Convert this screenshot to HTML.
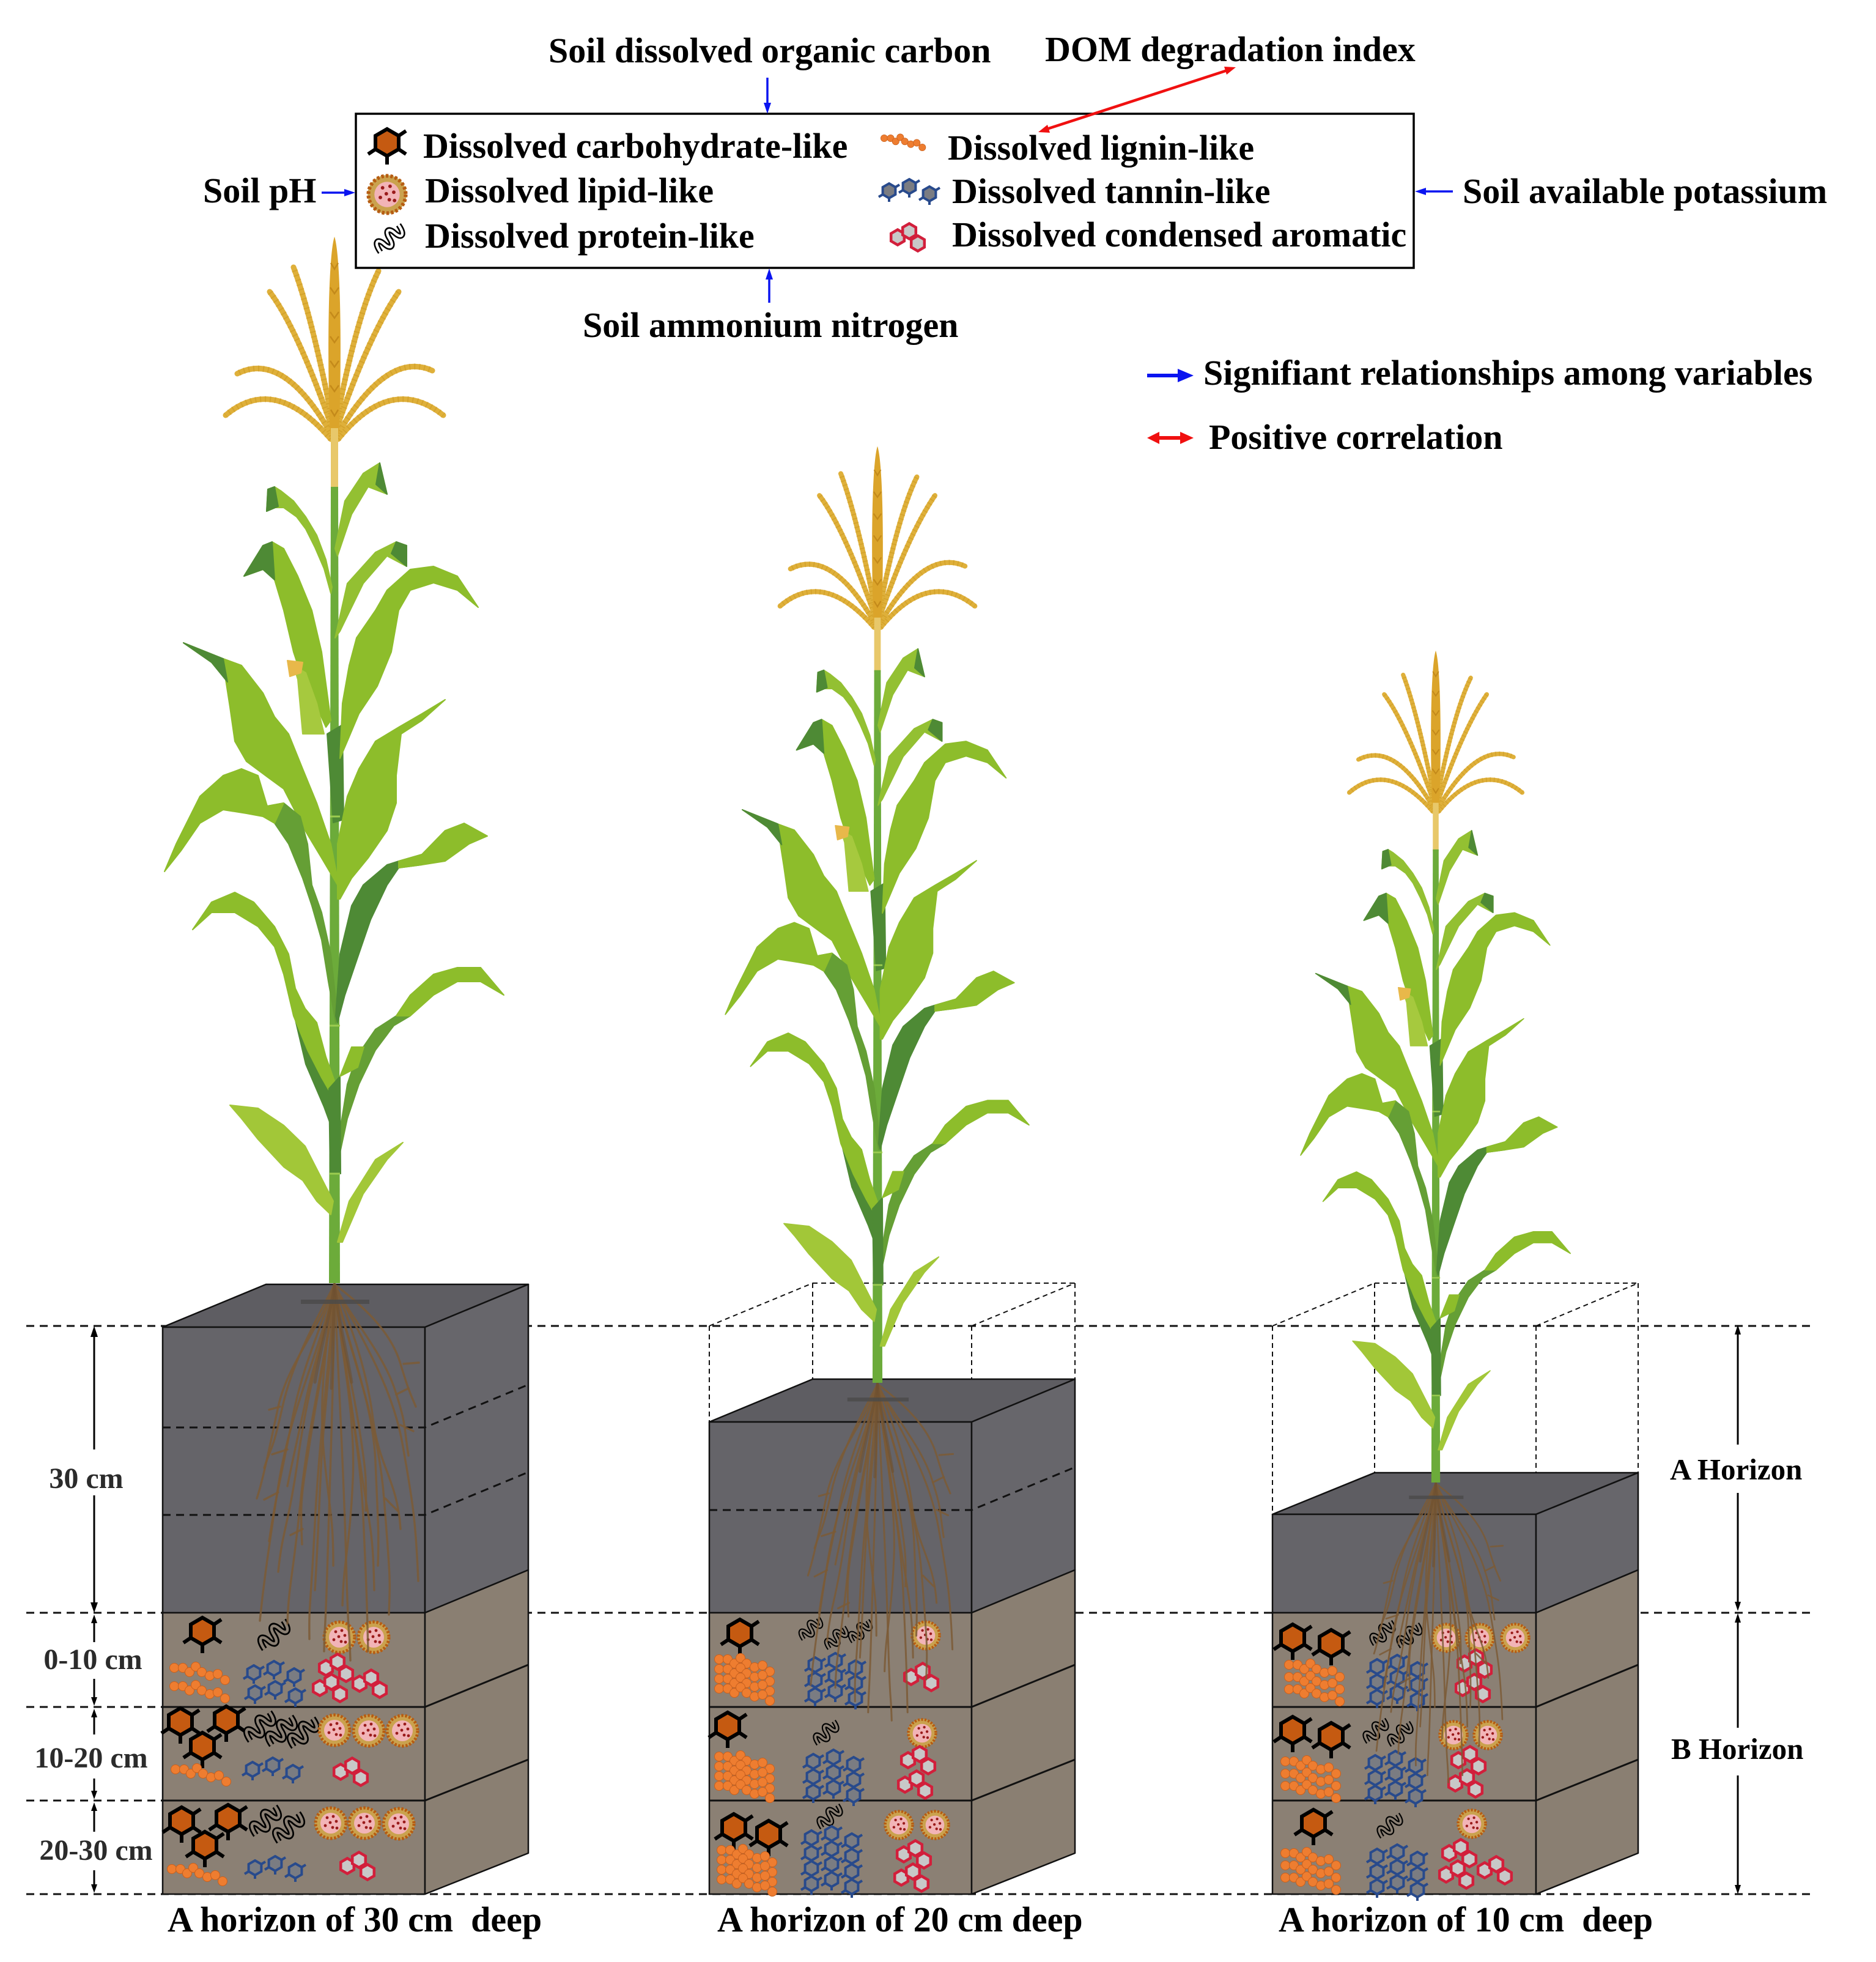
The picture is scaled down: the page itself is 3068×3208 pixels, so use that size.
<!DOCTYPE html>
<html><head><meta charset="utf-8"><style>
html,body{margin:0;padding:0;background:#fff;}
svg{display:block;}
text{font-family:"Liberation Serif","Times New Roman",serif;font-weight:bold;fill:#000;}
</style></head><body>
<svg width="3068" height="3208" viewBox="0 0 3068 3208" xmlns="http://www.w3.org/2000/svg">
<defs>
 <g id="carb">
  <path d="M19,-11 L31,-19 M19,11 L31,19 M0,22 L0,36 M-19,11 L-31,19" stroke="#000" stroke-width="6"/>
  <polygon points="0,-22 19,-11 19,11 0,22 -19,11 -19,-11" fill="#c55a11" stroke="#000" stroke-width="6"/>
 </g>
 <g id="lip">
  <circle r="26" fill="#caa24e"/>
  <circle r="25" fill="none" stroke="#b65c12" stroke-width="5" stroke-dasharray="3.5 2.6"/>
  <circle r="17" fill="#f2b4b7"/>
  <g fill="#9a1b1b"><circle cx="-6" cy="-9" r="2.4"/><circle cx="4" cy="-11" r="2.4"/><circle cx="9" cy="-3" r="2.4"/><circle cx="-1" cy="-1" r="2.4"/><circle cx="-9" cy="4" r="2.4"/><circle cx="3" cy="7" r="2.4"/><circle cx="10" cy="8" r="2.4"/></g>
 </g>
 <g id="pro">
  <g transform="rotate(-40)">
   <path d="M-27,8 C-25,-14 -15,-14 -13,2 C-11,16 -2,16 0,0 C2,-16 11,-16 13,-2 C15,14 25,14 27,-8" fill="none" stroke="#000" stroke-width="10"/>
   <path d="M-27,8 C-25,-14 -15,-14 -13,2 C-11,16 -2,16 0,0 C2,-16 11,-16 13,-2 C15,14 25,14 27,-8" fill="none" stroke="currentColor" stroke-width="4.5"/>
  </g>
 </g>
 <g id="lig" fill="#ee7d30" stroke="#c8601e" stroke-width="1">
  <circle cx="0" cy="0" r="7.5"/><circle cx="14" cy="0" r="7.5"/><circle cx="25" cy="7" r="7.5"/><circle cx="35" cy="-2" r="7.5"/><circle cx="45" cy="7" r="7.5"/><circle cx="58" cy="13" r="7.5"/><circle cx="71" cy="10" r="7.5"/><circle cx="83" cy="20" r="7.5"/>
 </g>
 <g id="th">
  <path d="M10.4,-6 L17,-10 M-10.4,6 L-17,10 M0,12 L0,18" stroke="#284a8c" stroke-width="4"/>
  <polygon points="0,-12 10.4,-6 10.4,6 0,12 -10.4,6 -10.4,-6" fill="#7a7c82" stroke="#284a8c" stroke-width="4"/>
 </g>
 <g id="tan"><use href="#th" x="-33" y="0"/><use href="#th" x="0" y="-7"/><use href="#th" x="33" y="5"/></g>
 <g id="ch"><polygon points="0,-12.5 10.8,-6.25 10.8,6.25 0,12.5 -10.8,6.25 -10.8,-6.25" fill="#c8c8c8" stroke="#d21f3b" stroke-width="4.5"/></g>
 <g id="cond"><use href="#ch"/><use href="#ch" x="19" y="-10"/><use href="#ch" x="33" y="10"/></g>
 <g id="ligc4"><use href="#lig"/><use href="#lig" y="16"/><use href="#lig" y="32"/><use href="#lig" y="48"/></g>
 <g id="ligc3"><use href="#lig"/><use href="#lig" y="20"/><use href="#lig" y="40"/></g>
 <g id="tanc"><use href="#tan"/><use href="#tan" y="25"/><use href="#tan" y="50"/></g>
 <g id="tanc4"><use href="#tan"/><use href="#tan" y="25"/><use href="#tan" y="50"/><use href="#tan" y="75"/></g>

 <g id="plant">
  <!-- roots -->
  <g fill="none" stroke="#7b5a36" stroke-width="3.4" stroke-opacity="0.85" stroke-linecap="round">
   <path d="M547,2100 C525,2170 470,2230 455,2300 S430,2420 420,2450"/>
   <path d="M547,2100 C528,2200 475,2300 455,2430 S430,2600 425,2650"/>
   <path d="M547,2100 C536,2210 505,2320 492,2450 S472,2590 470,2655"/>
   <path d="M547,2100 C540,2220 522,2350 515,2490 S505,2620 506,2680"/>
   <path d="M547,2100 C546,2250 540,2400 536,2540 S531,2650 530,2700"/>
   <path d="M547,2100 C553,2250 562,2400 566,2550 S571,2650 573,2715"/>
   <path d="M547,2100 C560,2230 588,2350 594,2480 S600,2620 602,2700"/>
   <path d="M547,2100 C570,2210 617,2310 628,2450 S638,2580 636,2640"/>
   <path d="M547,2100 C585,2180 640,2260 658,2360 S680,2490 684,2585"/>
   <path d="M547,2100 C600,2140 640,2180 655,2230 S672,2280 680,2300"/>
   <path d="M547,2100 C522,2150 480,2220 462,2300 S445,2360 432,2400"/>
   <path d="M547,2100 C532,2180 505,2260 488,2380 S462,2500 455,2570"/>
   <path d="M547,2100 C556,2200 582,2310 577,2420 S562,2550 560,2625"/>
   <path d="M547,2100 C566,2190 610,2290 614,2390 S620,2500 618,2560"/>
   <path d="M547,2100 C540,2180 522,2260 508,2350 S490,2450 494,2525"/>
   <path d="M547,2100 C570,2150 625,2210 645,2270 S660,2330 668,2380"/>
   <path d="M547,2100 C545,2200 530,2300 525,2400 S520,2520 515,2600"/>
   <path d="M547,2100 C560,2200 575,2300 590,2400 S610,2500 612,2600"/>
   <path d="M547,2100 C538,2160 515,2220 500,2290 S480,2380 470,2430"/>
   <path d="M547,2100 C552,2170 572,2240 585,2320 S600,2420 598,2470"/>
   <path d="M547,2100 C535,2190 520,2280 530,2380 S545,2480 545,2560"/>
   <path d="M547,2100 C575,2170 600,2240 610,2320 S650,2420 655,2500"/>
   <path d="M547,2100 C530,2160 495,2230 478,2320 S450,2450 440,2520"/>
   <path d="M455,2440 L432,2452 M470,2370 L445,2378 M458,2300 L440,2305 M648,2280 L668,2270 M655,2330 L676,2340 M630,2450 L650,2470 M495,2500 L475,2510 M660,2230 L685,2228"/>
  </g>
  <g fill="none" stroke="#6e5030" stroke-width="5" stroke-opacity="0.6" stroke-linecap="round">
   <path d="M547,2100 C540,2150 525,2200 515,2260"/>
   <path d="M547,2100 C552,2150 565,2200 575,2260"/>
   <path d="M547,2100 C546,2160 544,2210 542,2270"/>
  </g>
  <rect x="492" y="2125" width="112" height="7" fill="#4a4a4a" opacity="0.8"/>
  <!-- tassel -->
  <g fill="none" stroke="#dfb03a" stroke-width="9" stroke-linecap="round">
   <path d="M541,718 Q449,611 369,679"/>
   <path d="M543,712 Q464,572 388,611"/>
   <path d="M545,705 Q487,538 441,477"/>
   <path d="M546,700 Q510,516 480,437"/>
   <path d="M548,700 Q583,516 619,443"/>
   <path d="M549,705 Q602,550 652,477"/>
   <path d="M551,712 Q633,572 707,606"/>
   <path d="M553,718 Q640,611 725,679"/>
  </g>
  <g fill="none" stroke="#c8941c" stroke-width="10" stroke-dasharray="2 6" opacity="0.45">
   <path d="M541,718 Q449,611 369,679"/>
   <path d="M543,712 Q464,572 388,611"/>
   <path d="M545,705 Q487,538 441,477"/>
   <path d="M546,700 Q510,516 480,437"/>
   <path d="M548,700 Q583,516 619,443"/>
   <path d="M549,705 Q602,550 652,477"/>
   <path d="M551,712 Q633,572 707,606"/>
   <path d="M553,718 Q640,611 725,679"/>
  </g>
  <path d="M547,387 C558,420 559,600 554,710 L540,710 C535,600 536,420 547,387 Z" fill="#dba42a"/>
  <path d="M541,430 L547,440 L553,430 M540,470 L547,480 L554,470 M540,510 L547,520 L554,510 M540,550 L547,560 L554,550 M540,590 L547,600 L554,590 M540,630 L547,640 L554,630 M541,670 L547,680 L553,670" fill="none" stroke="#c48a1a" stroke-width="2.5"/>
  <rect x="541" y="700" width="12" height="100" fill="#e8c86a"/>
  <!-- stem -->
  <polygon points="538,2098 556,2098 553,796 541,796" fill="#6cab3a"/>
  <!-- leaves -->
  <g stroke-linejoin="round" stroke-width="2">
  <path d="M300,1051 L365,1077 L395,1088 L430,1133 L449,1172 L472,1200 L495,1257 L518,1313 L541,1380 L552,1436 L552,1447 L526,1403 L499,1358 L464,1290 L434,1268 L403,1245 L384,1212 L376,1156 L369,1111 L346,1083 Z" fill="#8dbd2b" stroke="#8dbd2b"/>
  <path d="M300,1051 L365,1077 L372,1115 L346,1083 Z" fill="#4e8a35" stroke="#4e8a35"/>
  <path d="M437,1318 L464,1313 L491,1335 L503,1380 L510,1447 L526,1492 L541,1560 L552,1661 L549,1672 L537,1605 L526,1537 L510,1481 L495,1436 L472,1380 L449,1346 Z" fill="#659f35" stroke="#659f35"/>
  <path d="M269,1425 L288,1380 L327,1302 L365,1268 L395,1257 L422,1268 L437,1318 L464,1313 L449,1346 L430,1335 L403,1330 L365,1324 L327,1346 L296,1391 Z" fill="#8dbd2b" stroke="#8dbd2b"/>
  <path d="M399,942 L430,892 L445,886 L464,897 L487,942 L510,998 L526,1066 L535,1133 L541,1178 L533,1189 L518,1156 L495,1111 L480,1066 L464,998 L449,948 L430,931 Z" fill="#8dbd2b" stroke="#8dbd2b"/>
  <path d="M399,942 L430,892 L445,886 L449,948 L430,931 Z" fill="#4e8a35" stroke="#4e8a35"/>
  <path d="M543,960 L533,915 L518,875 L500,845 L480,819 L460,803 L449,796 L438,800 L436,836 L450,830 L464,830 L485,845 L500,865 L515,895 L530,930 L541,970 Z" fill="#93c032" stroke="#93c032"/>
  <path d="M449,796 L438,800 L436,836 L455,828 Z" fill="#4e8a35" stroke="#4e8a35"/>
  <path d="M535,1200 L560,1185 L562,1340 L545,1345 Z" fill="#4e8a35" stroke="#4e8a35"/>
  <path d="M556,1240 L560,1150 L571,1088 L583,1043 L614,998 L633,965 L671,931 L709,926 L748,942 L782,993 L748,965 L709,953 L671,965 L652,998 L640,1066 L617,1122 L587,1167 L568,1212 Z" fill="#8dbd2b" stroke="#8dbd2b"/>
  <path d="M552,1470 L552,1380 L568,1302 L587,1257 L614,1212 L652,1189 L690,1167 L728,1144 L690,1178 L656,1200 L648,1268 L648,1313 L633,1358 L602,1403 L575,1436 L556,1470 Z" fill="#8dbd2b" stroke="#8dbd2b"/>
  <path d="M549,1661 L556,1560 L575,1481 L594,1447 L633,1414 L652,1408 L690,1397 L690,1414 L652,1419 L633,1447 L606,1504 L583,1571 L564,1627 L552,1672 Z" fill="#4e8a35" stroke="#4e8a35"/>
  <path d="M652,1408 L690,1397 L728,1358 L759,1346 L797,1367 L767,1380 L728,1408 L690,1414 L652,1419 Z" fill="#8dbd2b" stroke="#8dbd2b"/>
  <path d="M552,1874 L568,1773 L583,1728 L614,1683 L648,1661 L671,1627 L671,1661 L644,1677 L614,1717 L587,1773 L568,1829 L556,1885 Z" fill="#659f35" stroke="#659f35"/>
  <path d="M648,1661 L671,1627 L709,1593 L748,1582 L786,1582 L824,1627 L786,1605 L748,1605 L709,1627 L671,1661 Z" fill="#8dbd2b" stroke="#8dbd2b"/>
  <path d="M480,1655 L518,1730 L549,1800 L552,1870 L530,1810 L500,1740 Z" fill="#4e8a35" stroke="#4e8a35"/>
  <path d="M315,1520 L346,1475 L384,1459 L415,1475 L449,1515 L472,1560 L483,1616 L499,1649 L518,1672 L533,1728 L549,1773 L545,1795 L526,1762 L503,1717 L480,1661 L464,1593 L449,1548 L422,1515 L384,1492 L346,1492 Z" fill="#8dbd2b" stroke="#8dbd2b"/>
  <path d="M538,1780 L556,1760 L557,1919 L540,1919 Z" fill="#4e8a35" stroke="#4e8a35"/>
  <path d="M556,1760 L575,1712 L595,1712 L585,1745 Z" fill="#8dbd2b" stroke="#8dbd2b"/>
  <path d="M376,1807 L422,1812 L464,1840 L499,1874 L522,1919 L545,1964 L541,1986 L518,1964 L495,1930 L464,1908 L422,1863 L395,1829 Z" fill="#a2c738" stroke="#a2c738"/>
  <path d="M552,2031 L571,1964 L614,1896 L659,1868 L633,1896 L594,1952 L560,2031 Z" fill="#a2c738" stroke="#a2c738"/>
  <path d="M548,897 L564,819 L594,774 L621,757 L633,808 L602,796 L575,841 L552,909 Z" fill="#93c032" stroke="#93c032"/>
  <path d="M621,757 L633,808 L615,792 Z" fill="#4e8a35" stroke="#4e8a35"/>
  <path d="M548,1043 L568,954 L614,903 L648,886 L665,892 L665,926 L633,909 L594,954 L556,1032 Z" fill="#93c032" stroke="#93c032"/>
  <path d="M648,886 L665,892 L665,926 L640,905 Z" fill="#4e8a35" stroke="#4e8a35"/>
  <path d="M495,1200 L487,1111 L480,1088 L500,1100 L518,1150 L530,1200 Z" fill="#a6c93e" stroke="#a6c93e"/>
  <path d="M470,1080 L495,1083 L492,1100 L474,1106 Z" fill="#e8b84a" stroke="#e8b84a"/>
  </g>
  <g stroke="#9ccc50" stroke-width="3"><line x1="540" y1="1335" x2="556" y2="1335"/><line x1="539" y1="1677" x2="556" y2="1677"/><line x1="539" y1="1919" x2="556" y2="1919"/></g>
 </g>
</defs>

<!-- long dashed lines -->
<g stroke="#111" stroke-width="3" stroke-dasharray="13 9" fill="none">
 <line x1="43" y1="2168" x2="2963" y2="2168"/>
 <line x1="43" y1="2637" x2="2963" y2="2637"/>
 <line x1="43" y1="3097" x2="2963" y2="3097"/>
 <line x1="43" y1="2791" x2="266" y2="2791"/>
 <line x1="43" y1="2944" x2="266" y2="2944"/>
</g>

<!-- Block 1 -->
<g stroke="#111" stroke-width="2.5" stroke-linejoin="round">
 <polygon points="266,2170 695,2170 864,2100 435,2100" fill="#5e5d62"/>
 <rect x="266" y="2170" width="429" height="467" fill="#656469"/>
 <rect x="266" y="2637" width="429" height="460" fill="#8b8074"/>
 <polygon points="695,2170 864,2100 864,2567 695,2637" fill="#67666b"/>
 <polygon points="695,2637 864,2567 864,3030 695,3097" fill="#8a7f72"/>
 <path d="M266,2791 L695,2791 L864,2722 M266,2944 L695,2944 L864,2877" fill="none" stroke-width="3"/>
</g>
<g stroke="#111" stroke-width="3" stroke-dasharray="13 9" fill="none">
 <path d="M266,2334 L695,2334 L864,2264 M266,2477 L695,2477 L864,2407"/>
</g>

<!-- Block 2 -->
<g stroke="#111" stroke-width="2" stroke-dasharray="8 6" fill="none">
 <path d="M1160,2168 L1160,2325 M1589,2168 L1589,2325 M1329,2098 L1329,2255 M1758,2098 L1758,2255 M1329,2098 L1758,2098 M1160,2168 L1329,2098 M1589,2168 L1758,2098"/>
</g>
<g stroke="#111" stroke-width="2.5" stroke-linejoin="round">
 <polygon points="1160,2325 1589,2325 1758,2255 1329,2255" fill="#5e5d62"/>
 <rect x="1160" y="2325" width="429" height="312" fill="#656469"/>
 <rect x="1160" y="2637" width="429" height="460" fill="#8b8074"/>
 <polygon points="1589,2325 1758,2255 1758,2567 1589,2637" fill="#67666b"/>
 <polygon points="1589,2637 1758,2567 1758,3030 1589,3097" fill="#8a7f72"/>
 <path d="M1160,2791 L1589,2791 L1758,2722 M1160,2944 L1589,2944 L1758,2877" fill="none" stroke-width="3"/>
</g>
<g stroke="#111" stroke-width="3" stroke-dasharray="13 9" fill="none">
 <path d="M1160,2469 L1589,2469 L1758,2399"/>
</g>

<!-- Block 3 -->
<g stroke="#111" stroke-width="2" stroke-dasharray="8 6" fill="none">
 <path d="M2081,2168 L2081,2476 M2512,2168 L2512,2476 M2248,2098 L2248,2408 M2679,2098 L2679,2408 M2248,2098 L2679,2098 M2081,2168 L2248,2098 M2512,2168 L2679,2098"/>
</g>
<g stroke="#111" stroke-width="2.5" stroke-linejoin="round">
 <polygon points="2081,2476 2512,2476 2679,2408 2248,2408" fill="#5e5d62"/>
 <rect x="2081" y="2476" width="431" height="161" fill="#656469"/>
 <rect x="2081" y="2637" width="431" height="460" fill="#8b8074"/>
 <polygon points="2512,2476 2679,2408 2679,2567 2512,2637" fill="#67666b"/>
 <polygon points="2512,2637 2679,2567 2679,3030 2512,3097" fill="#8a7f72"/>
 <path d="M2081,2791 L2512,2791 L2679,2722 M2081,2944 L2512,2944 L2679,2877" fill="none" stroke-width="3"/>
</g>

<!-- Icons in soil -->
<g style="color:#8b8074">
 <!-- Block 1 -->
 <use href="#carb" x="331" y="2667"/>
 <use href="#pro" x="448" y="2673"/>
 <use href="#lip" x="555" y="2677"/><use href="#lip" x="611" y="2677"/>
 <use href="#lig" x="285" y="2727"/><use href="#lig" x="285" y="2757"/>
 <use href="#tan" x="448" y="2735"/><use href="#tan" x="450" y="2768"/>
 <use href="#cond" x="533" y="2727"/><use href="#cond" x="523" y="2760"/><use href="#cond" x="588" y="2753"/>

 <use href="#carb" x="295" y="2815"/><use href="#carb" x="370" y="2812"/><use href="#carb" x="331" y="2855"/>
 <use href="#pro" x="425" y="2823"/><use href="#pro" x="460" y="2830"/><use href="#pro" x="496" y="2833"/>
 <use href="#lip" x="547" y="2829"/><use href="#lip" x="603" y="2830"/><use href="#lip" x="658" y="2830"/>
 <use href="#lig" x="287" y="2893"/>
 <use href="#tan" x="446" y="2893"/>
 <use href="#cond" x="557" y="2897"/>

 <use href="#carb" x="297" y="2977"/><use href="#carb" x="373" y="2973"/><use href="#carb" x="335" y="3017"/>
 <use href="#pro" x="434" y="2977"/><use href="#pro" x="472" y="2988"/>
 <use href="#lip" x="541" y="2981"/><use href="#lip" x="596" y="2981"/><use href="#lip" x="652" y="2982"/>
 <use href="#lig" x="281" y="3056"/>
 <use href="#tan" x="450" y="3054"/>
 <use href="#cond" x="568" y="3051"/>

 <!-- Block 2 -->
 <use href="#carb" x="1210" y="2670"/>
 <use href="#pro" transform="translate(1326,2663) scale(0.75)"/><use href="#pro" transform="translate(1368,2678) scale(0.75)"/><use href="#pro" transform="translate(1407,2667) scale(0.75)"/>
 <use href="#lip" transform="translate(1514,2674) scale(0.9)"/>
 <use href="#ligc4" x="1176" y="2713"/>
 <use href="#tanc" x="1366" y="2722"/>
 <use href="#cond" x="1490" y="2742"/>

 <use href="#carb" x="1190" y="2822"/>
 <use href="#pro" transform="translate(1351,2833) scale(0.8)"/>
 <use href="#lip" transform="translate(1508,2834) scale(0.9)"/>
 <use href="#ligc4" x="1176" y="2872"/>
 <use href="#tanc" x="1363" y="2880"/>
 <use href="#cond" x="1485" y="2878"/><use href="#cond" x="1480" y="2918"/>

 <use href="#carb" x="1200" y="2988"/><use href="#carb" x="1257" y="2999"/>
 <use href="#pro" transform="translate(1357,2970) scale(0.8)"/>
 <use href="#lip" transform="translate(1470,2984) scale(0.9)"/><use href="#lip" transform="translate(1529,2984) scale(0.9)"/>
 <use href="#ligc4" x="1180" y="3025"/>
 <use href="#tanc4" x="1360" y="3005"/>
 <use href="#cond" x="1478" y="3032"/><use href="#cond" x="1474" y="3070"/>

 <!-- Block 3 -->
 <use href="#carb" x="2114" y="2678"/><use href="#carb" x="2177" y="2687"/>
 <use href="#pro" transform="translate(2261,2670) scale(0.8)"/><use href="#pro" transform="translate(2305,2674) scale(0.8)"/>
 <use href="#lip" transform="translate(2365,2678) scale(0.9)"/><use href="#lip" transform="translate(2420,2678) scale(0.9)"/><use href="#lip" transform="translate(2478,2678) scale(0.9)"/>
 <use href="#ligc3" x="2108" y="2722"/>
 <use href="#tanc" x="2285" y="2725"/>
 <use href="#cond" x="2395" y="2720"/><use href="#cond" x="2392" y="2760"/>

 <use href="#carb" x="2114" y="2829"/><use href="#carb" x="2177" y="2839"/>
 <use href="#pro" transform="translate(2250,2830) scale(0.8)"/><use href="#pro" transform="translate(2290,2835) scale(0.8)"/>
 <use href="#lip" transform="translate(2377,2837) scale(0.9)"/><use href="#lip" transform="translate(2433,2837) scale(0.9)"/>
 <use href="#ligc3" x="2102" y="2880"/>
 <use href="#tanc" x="2282" y="2882"/>
 <use href="#cond" x="2385" y="2878"/><use href="#cond" x="2380" y="2916"/>

 <use href="#carb" x="2148" y="2981"/>
 <use href="#pro" transform="translate(2273,2985) scale(0.8)"/>
 <use href="#lip" transform="translate(2407,2982) scale(0.9)"/>
 <use href="#ligc3" x="2102" y="3030"/>
 <use href="#tanc" x="2285" y="3035"/>
 <use href="#cond" x="2370" y="3030"/><use href="#cond" x="2365" y="3065"/><use href="#cond" x="2428" y="3058"/>
</g>

<!-- Plants -->
<use href="#plant"/>
<use href="#plant" transform="translate(1435,2261) scale(0.895) translate(-547,-2098)"/>
<use href="#plant" transform="translate(2348,2424) scale(0.795) translate(-547,-2098)"/>

<!-- Legend box -->
<rect x="582" y="186" width="1730" height="252" fill="#fff" stroke="#000" stroke-width="3.5"/>
<g style="color:#fff">
 <use href="#carb" x="633" y="233"/>
 <use href="#lip" transform="translate(633,318) scale(1.22)"/>
 <use href="#pro" transform="translate(637,390) scale(0.95)"/>
 <use href="#lig" transform="translate(1446,226) scale(0.75)"/>
 <use href="#tan" x="1487" y="312"/>
 <use href="#cond" x="1468" y="388"/>
</g>

<g font-size="58">
 <text x="897" y="102">Soil dissolved organic carbon</text>
 <text x="1709" y="100">DOM degradation index</text>
 <text x="692" y="258">Dissolved carbohydrate-like</text>
 <text x="695" y="331">Dissolved lipid-like</text>
 <text x="695" y="405">Dissolved protein-like</text>
 <text x="1550" y="261">Dissolved lignin-like</text>
 <text x="1557" y="332">Dissolved tannin-like</text>
 <text x="1557" y="403">Dissolved condensed aromatic</text>
 <text x="332" y="331">Soil pH</text>
 <text x="2392" y="332">Soil available potassium</text>
 <text x="953" y="551">Soil ammonium nitrogen</text>
 <text x="1968" y="629">Signifiant relationships among variables</text>
 <text x="1977" y="734">Positive correlation</text>
 <text x="274" y="3158">A horizon of 30 cm&#160; deep</text>
 <text x="1173" y="3158">A horizon of 20 cm deep</text>
 <text x="2091" y="3158">A horizon of 10 cm&#160; deep</text>
</g>
<g font-size="48" text-anchor="middle">
 <text x="141" y="2433" style="fill:#2b2b2b">30 cm</text>
 <text x="152" y="2729" style="fill:#2b2b2b">0-10 cm</text>
 <text x="149" y="2890" style="fill:#2b2b2b">10-20 cm</text>
 <text x="157" y="3041" style="fill:#2b2b2b">20-30 cm</text>
</g>
<g font-size="49">
 <text x="2731" y="2419">A Horizon</text>
 <text x="2733" y="2876">B Horizon</text>
</g>

<!-- Blue arrows -->
<g stroke="#0a14f0" stroke-width="3.5" fill="none">
 <line x1="1255" y1="127" x2="1255" y2="170"/>
 <line x1="1258" y1="495" x2="1258" y2="455"/>
 <line x1="526" y1="315" x2="565" y2="315"/>
 <line x1="2376" y1="313" x2="2330" y2="313"/>
 <line x1="1876" y1="614" x2="1930" y2="614" stroke-width="6"/>
</g>
<g fill="#0a14f0">
 <polygon points="1249,168 1261,168 1255,186"/>
 <polygon points="1252,457 1264,457 1258,439"/>
 <polygon points="563,309 563,321 581,315"/>
 <polygon points="2332,307 2332,319 2314,313"/>
 <polygon points="1926,603 1926,625 1952,614"/>
</g>
<!-- Red arrows -->
<g stroke="#f01010" stroke-width="4.5" fill="none">
 <line x1="2007" y1="115" x2="1712" y2="211"/>
 <line x1="1890" y1="716" x2="1936" y2="716" stroke-width="6"/>
</g>
<g fill="#f01010">
 <polygon points="1698,216 1717,217 1713,204"/>
 <polygon points="2021,110 2006,122 2002,109"/>
 <polygon points="1896,706 1896,726 1876,716"/>
 <polygon points="1930,706 1930,726 1952,716"/>
</g>

<!-- Depth arrows -->
<g stroke="#000" stroke-width="3" fill="none">
 <line x1="154" y1="2180" x2="154" y2="2370"/>
 <line x1="154" y1="2445" x2="154" y2="2627"/>
 <line x1="154" y1="2648" x2="154" y2="2685"/>
 <line x1="154" y1="2745" x2="154" y2="2780"/>
 <line x1="154" y1="2802" x2="154" y2="2836"/>
 <line x1="154" y1="2908" x2="154" y2="2934"/>
 <line x1="154" y1="2955" x2="154" y2="2995"/>
 <line x1="154" y1="3058" x2="154" y2="3087"/>
 <line x1="2842" y1="2178" x2="2842" y2="2362"/>
 <line x1="2842" y1="2441" x2="2842" y2="2625"/>
 <line x1="2842" y1="2648" x2="2842" y2="2825"/>
 <line x1="2842" y1="2903" x2="2842" y2="3087"/>
</g>
<g fill="#000">
 <polygon points="154,2168 148,2186 160,2186"/>
 <polygon points="154,2637 148,2620 160,2620"/>
 <polygon points="154,2640 149,2654 159,2654"/>
 <polygon points="154,2789 149,2775 159,2775"/>
 <polygon points="154,2794 149,2808 159,2808"/>
 <polygon points="154,2942 149,2928 159,2928"/>
 <polygon points="154,2947 149,2961 159,2961"/>
 <polygon points="154,3095 149,3081 159,3081"/>
 <polygon points="2842,2166 2837,2182 2847,2182"/>
 <polygon points="2842,2634 2837,2619 2847,2619"/>
 <polygon points="2842,2638 2837,2653 2847,2653"/>
 <polygon points="2842,3097 2837,3082 2847,3082"/>
</g>
</svg>
</body></html>
